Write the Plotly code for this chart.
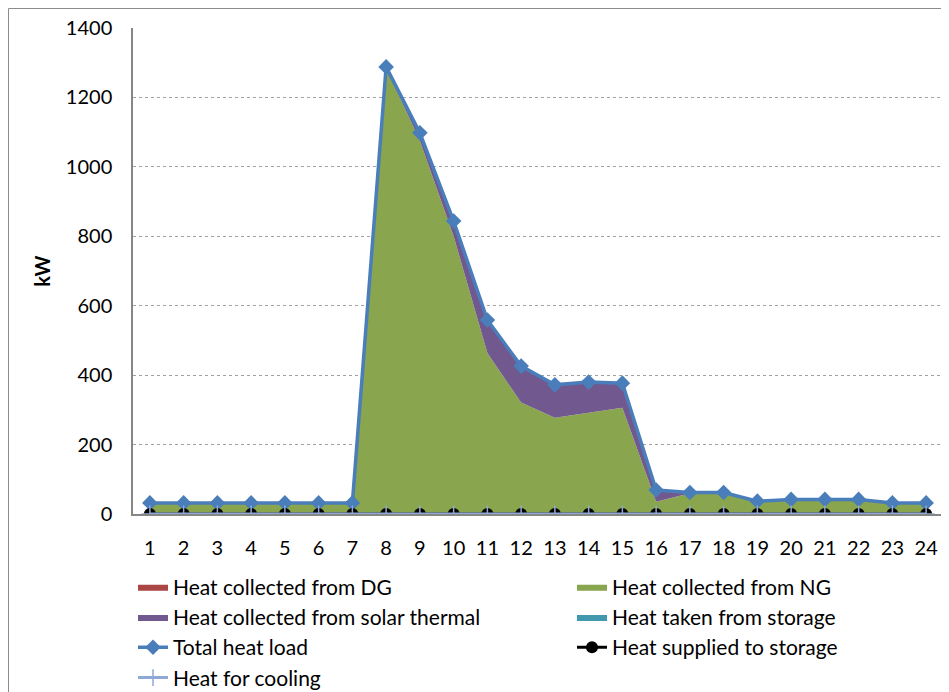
import plotly.graph_objects as go

hours = list(range(1, 25))
heat_dg = [0] * 24
heat_ng = [32, 32, 32, 32, 32, 32, 32, 1285, 1075, 800, 464, 321, 277, 292, 306, 35,
           60, 60, 37, 42, 42, 42, 32, 32]
heat_solar = [0, 0, 0, 0, 0, 0, 0, 3, 23, 44, 95, 105, 95, 88, 71, 34,
              2, 2, 0, 0, 0, 0, 0, 0]
heat_storage_taken = [0] * 24
total_heat_load = [32, 32, 32, 32, 32, 32, 32, 1288, 1098, 844, 559, 426, 372, 380, 377, 69,
                   62, 62, 37, 42, 42, 42, 32, 32]
heat_supplied_storage = [0] * 24
heat_cooling = [0] * 24
y_ticks = [0, 200, 400, 600, 800, 1000, 1200, 1400]

FONT = "Lato"
OFF = 8  # page body margin in the browser
W, H = 949 - OFF, 692 - OFF
PL, PR, PT, PB = 133 - OFF, 943 - OFF, 28 - OFF, 514 - OFF
PW, PH = PR - PL, PB - PT

fig = go.Figure()
area_specs = [
    ("Heat collected from DG", heat_dg, "#AA4643", "legend"),
    ("Heat collected from NG", heat_ng, "#89A54E", "legend2"),
    ("Heat collected from solar thermal", heat_solar, "#71588F", "legend"),
    ("Heat taken from storage", heat_storage_taken, "#4198AF", "legend2"),
]
for name, vals, col, leg in area_specs:
    fig.add_trace(go.Scatter(x=hours, y=vals, name=name, mode="lines",
                             stackgroup="one", line=dict(width=0, color=col),
                             fillcolor=col, legend=leg))

fig.add_trace(go.Scatter(x=hours, y=total_heat_load, name="Total heat load",
                         mode="lines+markers", legend="legend",
                         line=dict(color="#4A7EBB", width=3.5),
                         marker=dict(symbol="diamond", size=12, color="#4A7EBB")))
fig.add_trace(go.Scatter(x=hours, y=heat_supplied_storage, name="Heat supplied to storage",
                         mode="lines+markers", legend="legend2",
                         line=dict(color="black", width=3),
                         marker=dict(symbol="circle", size=12, color="black")))
fig.add_trace(go.Scatter(x=hours, y=heat_cooling, name="Heat for cooling",
                         mode="lines+markers", legend="legend",
                         line=dict(color="#8EA9D6", width=3),
                         marker=dict(symbol="cross-thin", size=12,
                                     line=dict(color="#8EA9D6", width=1.5))))

leg_common = dict(orientation="v", xref="paper", yref="container",
                  xanchor="left", yanchor="top", y=1 - 558.5 / H,
                  font=dict(family=FONT, size=21, color="black"), itemwidth=30,
                  bgcolor="rgba(0,0,0,0)", traceorder="normal")

fig.update_layout(
    width=W, height=H,
    margin=dict(l=PL, r=W - PR, t=PT, b=H - PB, autoexpand=False),
    paper_bgcolor="white", plot_bgcolor="white",
    font=dict(family=FONT, size=20, color="black"),
    showlegend=True,
    legend=dict(x=0 / PW, **leg_common),
    legend2=dict(x=(564 - PL) / PW, **leg_common),
    xaxis=dict(range=[0.5, 24.5], tickmode="array", tickvals=hours,
               ticktext=[str(h) for h in hours], showgrid=False,
               showline=True, linecolor="#868686", linewidth=1.5,
               ticks="", ticklabelstandoff=15, zeroline=False,
               tickfont=dict(size=20)),
    yaxis=dict(range=[0, 1400], tickmode="array", tickvals=y_ticks,
               showgrid=True, gridcolor="#A0A0A0", griddash="dot", gridwidth=1,
               showline=True, linecolor="#868686", linewidth=1.5,
               ticks="", ticklabelstandoff=15, zeroline=False,
               tickfont=dict(size=20),
               title=dict(text="<b>kW</b>", font=dict(size=20), standoff=10)),
    shapes=[dict(type="rect", xref="paper", yref="paper",
                 x0=(0.5 - PL) / PW, x1=1.03, y0=-0.4, y1=(PB - 0.5) / PH,
                 line=dict(color="#8C8C8C", width=1), fillcolor="rgba(0,0,0,0)",
                 layer="below")],
)

fig.write_html("out.html")
